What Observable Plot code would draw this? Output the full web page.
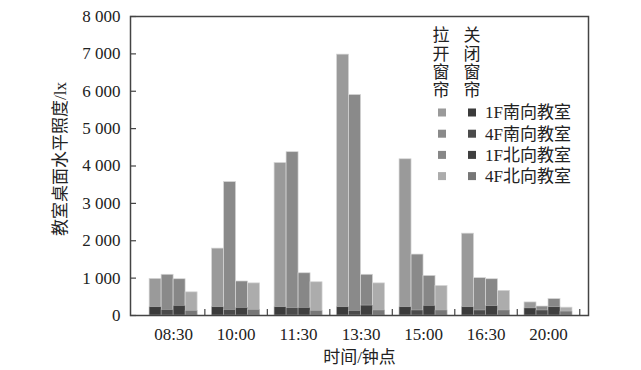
<!DOCTYPE html>
<html>
<head>
<meta charset="utf-8">
<script src="https://cdn.jsdelivr.net/npm/d3@7"></script>
<script src="https://cdn.jsdelivr.net/npm/@observablehq/plot@0.6"></script>
<style>
  html, body { margin: 0; padding: 0; background: #fff; }
</style>
</head>
<body>
<div id="chart"></div>
<script>
// ---- data ----
const times = ["08:30", "10:00", "11:30", "13:30", "15:00", "16:30", "20:00"];
const rooms = ["1F南向教室", "4F南向教室", "1F北向教室", "4F北向教室"];
// curtains open (拉开窗帘)
const open1FS = [980, 1790, 4080, 6980, 4180, 2190, 350];
const open4FS = [1090, 3570, 4370, 5900, 1630, 1000, 240];
const open1FN = [970, 910, 1130, 1090, 1060, 970, 440];
const open4FN = [620, 860, 890, 860, 790, 660, 210];
// curtains closed (关闭窗帘)
const closed1FS = [220, 220, 220, 220, 220, 220, 190];
const closed4FS = [150, 150, 200, 125, 135, 135, 135];
const closed1FN = [260, 205, 205, 265, 260, 250, 220];
const closed4FN = [125, 150, 125, 135, 135, 135, 105];
const yTicks = [0, 1000, 2000, 3000, 4000, 5000, 6000, 7000, 8000];
const openLabel = "拉开窗帘";
const closedLabel = "关闭窗帘";
const xTitle = "时间/钟点";
const yTitle = "教室桌面水平照度/lx";

const openColors = ["#9a9a9a", "#8a8a8a", "#878787", "#acacac"];
const closedColors = ["#3b3b3b", "#4b4b4b", "#3f3f3f", "#777777"];

const openSeries = [open1FS, open4FS, open1FN, open4FN];
const closedSeries = [closed1FS, closed4FS, closed1FN, closed4FN];

const barW = 0.192;
function rows(series, j) {
  return times.map((t, i) => ({
    i, j, time: t, room: rooms[j], value: series[i],
    x1: i - 2 * barW + j * barW,
    x2: i - 2 * barW + (j + 1) * barW
  }));
}

const fontFamily = "'Liberation Serif', 'Times New Roman', 'Noto Sans CJK SC', serif";
const fmt = v => d3.format(",")(v).replace(/,/g, " ");

const marks = [];
openSeries.forEach((s, j) => {
  marks.push(Plot.rectY(rows(s, j), {x1: "x1", x2: "x2", y: "value", fill: openColors[j], stroke: "#d6d6d6", strokeWidth: 0.7}));
});
closedSeries.forEach((s, j) => {
  marks.push(Plot.rectY(rows(s, j), {x1: "x1", x2: "x2", y: "value", fill: closedColors[j], stroke: "#bdbdbd", strokeWidth: 0.5}));
});
marks.push(
  Plot.axisY({ticks: yTicks, tickSize: 0, tickPadding: 10, tickFormat: fmt, label: null, fill: "#222"}),
  Plot.axisY({ticks: yTicks, tickSize: 6, dx: 6, tickFormat: () => "", label: null, stroke: "#444", strokeWidth: 1.2}),
  Plot.axisX({ticks: times.map((_, i) => i + 0.5), tickSize: 6, dy: -6, tickFormat: () => "", label: null, stroke: "#444", strokeWidth: 1.2}),
  Plot.axisX({ticks: times.map((_, i) => i), tickSize: 0, tickPadding: 12, tickFormat: i => times[i], label: null, fill: "#222"}),
  Plot.frame({stroke: "#444", strokeWidth: 1.5}),
  Plot.text([yTitle], {frameAnchor: "left", rotate: -90, dx: -70, dy: -7, textAnchor: "middle", text: d => d, fill: "#222"}),
  Plot.text([xTitle], {frameAnchor: "bottom", dy: 47, text: d => d, fill: "#222"})
);

const chart = Plot.plot({
  width: 641,
  height: 370,
  marginLeft: 130,
  marginRight: 53,
  marginTop: 16,
  marginBottom: 55,
  style: {fontFamily, fontSize: "17px", background: "white", color: "#222", overflow: "visible"},
  x: {domain: [-0.69, 6.64]},
  y: {domain: [0, 8000]},
  marks
});

// ---- legend ----
const svg = d3.select(chart);
const lg = svg.append("g").attr("font-family", fontFamily).attr("font-size", 17).attr("fill", "#222").attr("text-anchor", "start");
function vertical(label, cx) {
  const t = lg.append("text").attr("text-anchor", "middle");
  Array.from(label).forEach((ch, k) => {
    t.append("tspan").attr("x", cx).attr("y", 35.5 + k * 18.2).attr("dy", "0.35em").text(ch);
  });
}
vertical(openLabel, 441);
vertical(closedLabel, 472);
rooms.forEach((r, j) => {
  const cy = 112.5 + j * 21.2;
  lg.append("rect").attr("x", 438).attr("y", cy - 4).attr("width", 8).attr("height", 8).attr("fill", openColors[j]);
  lg.append("rect").attr("x", 468).attr("y", cy - 4).attr("width", 8).attr("height", 8).attr("fill", closedColors[j]);
  lg.append("text").attr("x", 485).attr("y", cy).attr("dy", "0.35em").attr("text-anchor", "start").text(r);
});

document.getElementById("chart").appendChild(chart);
</script>
</body>
</html>
